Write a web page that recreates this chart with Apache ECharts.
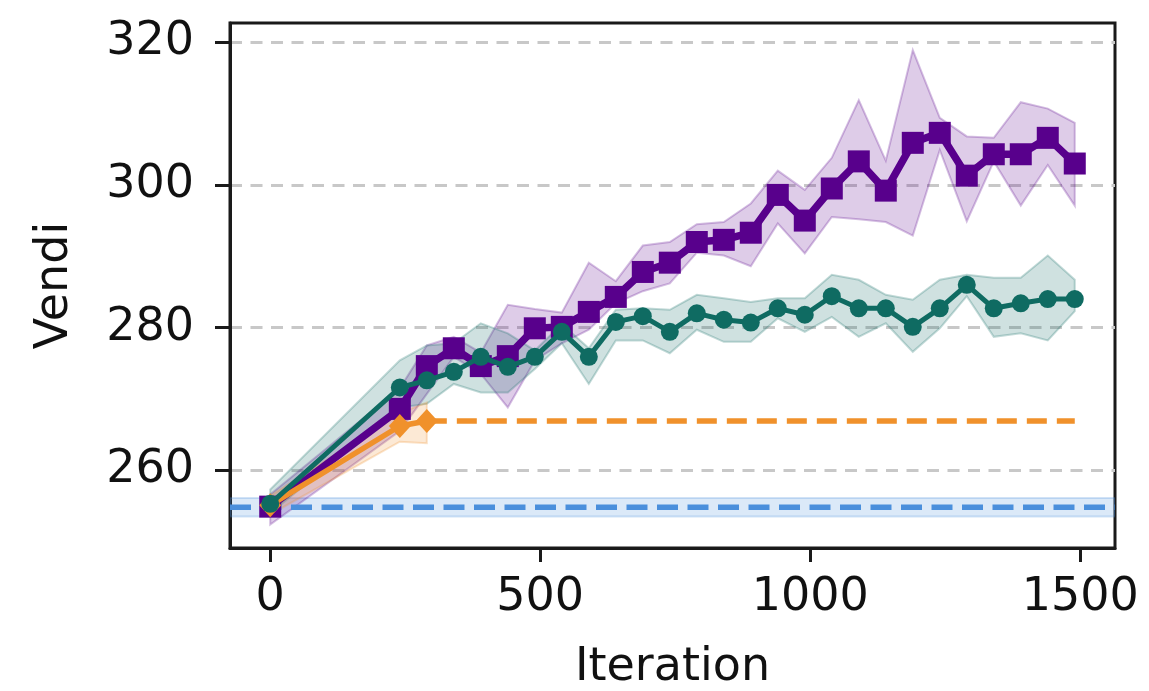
<!DOCTYPE html>
<html>
<head>
<meta charset="utf-8">
<script src="https://cdn.jsdelivr.net/npm/echarts@6/dist/echarts.min.js"></script>
<style>
  html, body { margin: 0; padding: 0; background: #ffffff; }
  #chart { width: 1149px; height: 691px; }
</style>
</head>
<body>
<div id="chart"></div>
<script>
// Iterations at which each run was evaluated
const iterations = [0, 240, 290, 340, 390, 440, 490, 540, 590, 640, 690, 740, 790, 840,
  890, 940, 990, 1040, 1090, 1140, 1190, 1240, 1290, 1340, 1390, 1440, 1490];

// Purple run (squares): mean and band
const purpleMean = [254.9, 268.6, 274.6, 277.1, 274.6, 276.0, 279.9, 280.1, 282.2, 284.3, 287.8,
  289.1, 292.0, 292.3, 293.3, 298.6, 295.0, 299.5, 303.3, 299.2, 305.9, 307.3, 301.3, 304.3, 304.3, 306.6, 303.0];
const purpleLow = [252.4, 265.5, 270.7, 275.9, 273.5, 268.8, 275.4, 277.8, 279.7, 283.4, 285.1,
  286.2, 290.5, 290.1, 288.6, 294.6, 290.4, 295.5, 295.2, 294.8, 292.9, 304.9, 294.9, 303.3, 297.1, 302.8, 297.1];
const purpleHigh = [256.6, 271.5, 277.5, 278.7, 276.5, 283.2, 282.6, 282.1, 289.1, 286.5, 291.5,
  292.0, 294.5, 294.8, 297.4, 302.0, 299.3, 303.8, 311.9, 303.4, 318.9, 309.4, 306.8, 306.6, 311.6, 310.7, 308.7];

// Teal run (circles): mean and band
const tealMean = [255.3, 271.6, 272.6, 273.8, 275.9, 274.5, 275.9, 279.4, 275.9, 280.8, 281.6,
  279.4, 282.0, 281.1, 280.7, 282.7, 281.8, 284.4, 282.7, 282.7, 280.1, 282.7, 286.0, 282.7, 283.4, 284.0, 284.0];
const tealLow = [254.0, 268.8, 269.3, 272.1, 270.9, 270.9, 274.2, 277.8, 272.1, 278.2, 278.2,
  276.4, 279.7, 278.0, 278.0, 281.3, 279.4, 281.5, 278.7, 280.6, 276.6, 279.9, 284.4, 278.7, 279.2, 278.2, 282.3];
const tealHigh = [257.3, 275.4, 277.5, 277.8, 280.6, 279.2, 276.8, 280.5, 277.1, 282.5, 282.7,
  282.5, 284.6, 284.1, 283.6, 284.1, 284.1, 287.4, 286.7, 284.6, 283.9, 286.7, 287.4, 287.0, 287.0, 290.1, 286.7];

// Orange run (diamonds): stops early, its final value is carried as a dashed level
const orangeIter = [0, 240, 290];
const orangeMean = [255.1, 266.2, 266.9];
const orangeLow = [253.8, 264.0, 263.8];
const orangeHigh = [256.4, 268.0, 269.5];
const orangeEndIter = 1490;

// Baseline level (blue dashed) with its band
const baseline = 254.8;
const baselineLow = 253.5;
const baselineHigh = 256.1;

// Axis ranges and ticks
const X_MIN = -74.5, X_MAX = 1564.5;
const Y_MIN = 249.1, Y_MAX = 322.7;
const xTicks = [0, 500, 1000, 1500];
const yTicks = [260, 280, 300, 320];

const PURPLE = '#58008c';
const TEAL = '#0f6b62';
const ORANGE = '#f0912b';
const BLUE = '#4a8fdc';
const FONT = 'DejaVu Sans';

function rgba(hex, a) {
  const n = parseInt(hex.slice(1), 16);
  return 'rgba(' + ((n >> 16) & 255) + ',' + ((n >> 8) & 255) + ',' + (n & 255) + ',' + a + ')';
}

// Shaded band between low and high, drawn as one polygon through the axis scales
function band(name, xs, lo, hi, color, alpha, z) {
  return {
    type: 'custom', name: name, silent: true, z: z, clip: true,
    data: xs.map((x, i) => [x, lo[i], hi[i]]),
    encode: { x: 0, y: [1, 2] },
    renderItem: function (params, api) {
      if (params.dataIndex !== 0) return null;
      const pts = [];
      for (let i = 0; i < xs.length; i++) pts.push(api.coord([xs[i], hi[i]]));
      for (let i = xs.length - 1; i >= 0; i--) pts.push(api.coord([xs[i], lo[i]]));
      return {
        type: 'polygon',
        shape: { points: pts },
        style: { fill: rgba(color, alpha), stroke: rgba(color, alpha + 0.05), lineWidth: 2 }
      };
    }
  };
}

function pairs(xs, ys) { return xs.map((x, i) => [x, ys[i]]); }

const chart = echarts.init(document.getElementById('chart'), null, { renderer: 'canvas' });

chart.setOption({
  animation: false,
  backgroundColor: '#ffffff',
  grid: {
    left: 230, right: 34, top: 23, bottom: 143,
    show: true, borderColor: '#1a1a1a', borderWidth: 3, backgroundColor: 'transparent',
    outerBoundsMode: 'none'
  },
  xAxis: {
    type: 'value', min: X_MIN, max: X_MAX,
    name: 'Iteration', nameLocation: 'middle', nameGap: 97,
    nameTextStyle: { fontFamily: FONT, fontSize: 46, color: '#111' },
    axisLine: { show: true, onZero: false, lineStyle: { color: '#1a1a1a', width: 3 } },
    axisTick: { show: true, inside: false, length: 14, customValues: xTicks,
      lineStyle: { color: '#1a1a1a', width: 3 } },
    axisLabel: { customValues: xTicks, margin: 27, fontFamily: FONT, fontSize: 46, color: '#111',
      formatter: function (v) { return String(v); } },
    splitLine: { show: false }
  },
  yAxis: {
    type: 'value', min: Y_MIN, max: Y_MAX,
    name: 'Vendi', nameLocation: 'middle', nameGap: 152, nameRotate: 90,
    nameTextStyle: { fontFamily: FONT, fontSize: 46, color: '#111' },
    axisLine: { show: true, onZero: false, lineStyle: { color: '#1a1a1a', width: 3 } },
    axisTick: { show: true, inside: false, length: 15, customValues: yTicks,
      lineStyle: { color: '#1a1a1a', width: 3 } },
    axisLabel: { customValues: yTicks, margin: 36, fontFamily: FONT, fontSize: 46, color: '#111',
      formatter: function (v) { return String(v); } },
    splitLine: { show: true, lineStyle: { color: '#c8c8c8', width: 3, type: [12, 8.5] } }
  },
  series: [
    band('baseline band', [X_MIN, X_MAX], [baselineLow, baselineLow], [baselineHigh, baselineHigh], BLUE, 0.2, 1),
    band('purple band', iterations, purpleLow, purpleHigh, PURPLE, 0.2, 1),
    band('teal band', iterations, tealLow, tealHigh, TEAL, 0.2, 1),
    band('orange band', orangeIter, orangeLow, orangeHigh, ORANGE, 0.2, 1),
    {
      type: 'line', name: 'baseline', z: 2, silent: true, symbol: 'none',
      data: [[X_MIN, baseline], [X_MAX, baseline]],
      lineStyle: { color: BLUE, width: 5.5, type: [21, 9.5] }
    },
    {
      type: 'line', name: 'purple', z: 3, silent: true,
      data: pairs(iterations, purpleMean),
      symbol: 'rect', symbolSize: 22,
      itemStyle: { color: PURPLE },
      lineStyle: { color: PURPLE, width: 7.5 }
    },
    {
      type: 'line', name: 'orange level', z: 4, silent: true, symbol: 'none',
      data: [[orangeIter[orangeIter.length - 1], orangeMean[orangeMean.length - 1]],
             [orangeEndIter, orangeMean[orangeMean.length - 1]]],
      lineStyle: { color: ORANGE, width: 5.5, type: [20, 10] }
    },
    {
      type: 'line', name: 'orange', z: 4, silent: true,
      data: pairs(orangeIter, orangeMean),
      symbol: 'diamond', symbolSize: [22, 24],
      itemStyle: { color: ORANGE },
      lineStyle: { color: ORANGE, width: 5.5 }
    },
    {
      type: 'line', name: 'teal', z: 5, silent: true,
      data: pairs(iterations, tealMean),
      symbol: 'circle', symbolSize: 18,
      itemStyle: { color: TEAL },
      lineStyle: { color: TEAL, width: 5 }
    }
  ]
});
</script>
</body>
</html>
